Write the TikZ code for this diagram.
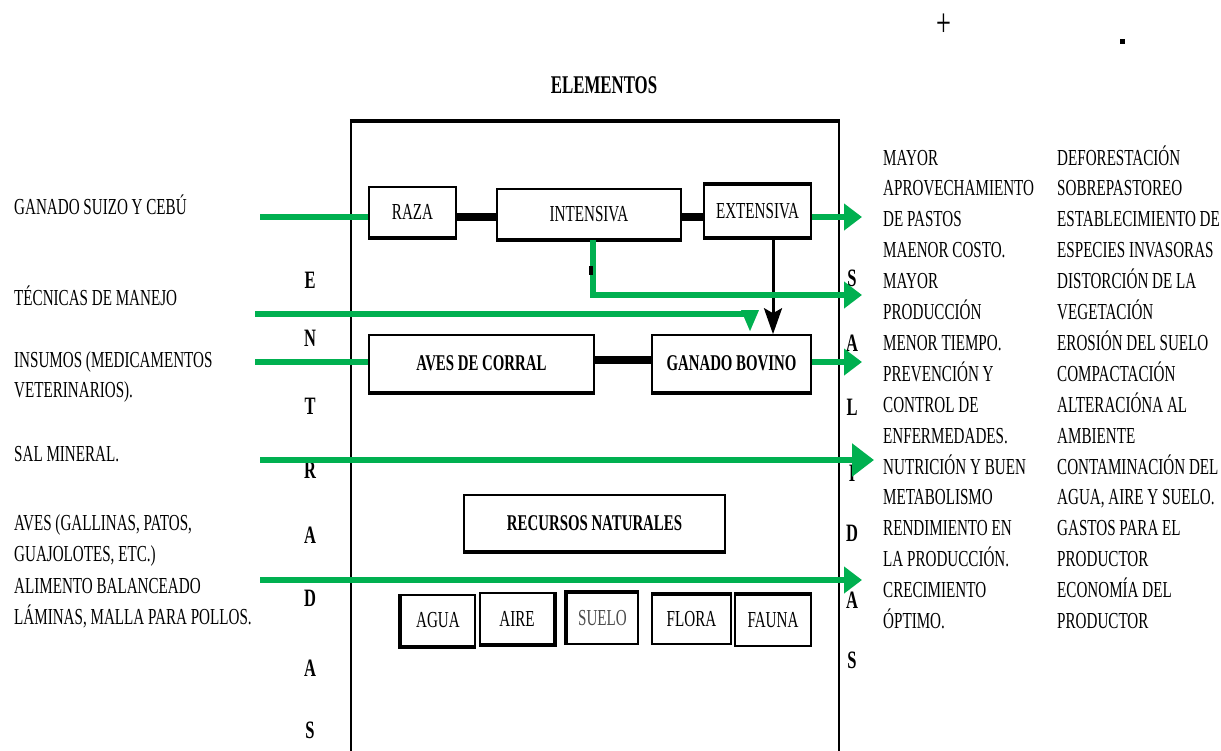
\documentclass[tikz,border=0pt]{standalone}
\usepackage{fontspec}
\setmainfont{Liberation Serif}[FakeStretch=0.66]
\usetikzlibrary{arrows.meta}
\definecolor{grn}{HTML}{00B050}
\begin{document}
\begin{tikzpicture}[x=1pt,y=-1pt,
  txt/.style={font=\fontsize{22.9}{26}\selectfont, inner sep=0pt, anchor=base west},
  boxn/.style={draw, line width=1.6pt, inner sep=0pt, font=\fontsize{22.9}{26}\selectfont},
  boldbox/.style={boxn, font=\fontsize{22.5}{26}\selectfont\bfseries},
  letter/.style={font=\fontsize{25}{28}\selectfont\bfseries, inner sep=0pt},
  edge/.style={line width=3.6pt},
  thickln/.style={line width=8pt},
  gline/.style={grn, line width=5.5pt},
  garrow/.style={gline, -{Triangle[length=18pt,width=26pt]}},
  bigarrow/.style={gline, -{Triangle[length=22pt,width=32pt]}},
  downarrow/.style={gline, -{Triangle[length=22pt,width=16pt]}},
  barrow/.style={line width=3pt, -{Stealth[length=26pt,width=18pt,inset=5pt]}}]
\useasboundingbox (0,0) rectangle (1221,750);

% title and signs
\node[font=\fontsize{25.5}{28}\selectfont\bfseries, inner sep=0pt] (titulo) at (604,85) {ELEMENTOS};
\node[font=\fontsize{40}{42}\selectfont, inner sep=0pt] (mas) at (944,25) {+};
\node[fill=black, minimum size=5pt, inner sep=0pt] (menos) at (1122,41) {};

% main frame
\coordinate (fbl) at (351,752);
\coordinate (ftl) at (351,121);
\coordinate (ftr) at (839,121);
\coordinate (fbr) at (839,752);
\draw[line width=2.5pt] (fbl) -- (ftl);
\draw[line width=2.5pt] (ftr) -- (fbr);
\draw[line width=4pt] ([xshift=-1.25pt]ftl) -- ([xshift=1.25pt]ftr);

% boxes
\node[boxn, minimum width=87pt, minimum height=50pt] (raza) at (412.5,212) {RAZA};
\node[boxn, minimum width=184pt, minimum height=50pt] (intensiva) at (589,214) {INTENSIVA};
\node[boxn, minimum width=107pt, minimum height=52pt] (extensiva) at (757.5,211) {EXTENSIVA};
\node[boldbox, minimum width=225pt, minimum height=57pt] (aves) at (481.5,363.5) {AVES DE CORRAL};
\node[boldbox, minimum width=159pt, minimum height=57pt] (bovino) at (731.5,363.5) {GANADO BOVINO};
\node[boldbox, minimum width=261pt, minimum height=56pt] (recursos) at (594.5,523) {RECURSOS NATURALES};
\node[boxn, minimum width=74pt, minimum height=51pt] (agua) at (438,620.5) {AGUA};
\node[boxn, minimum width=74pt, minimum height=51pt] (aire) at (517,618.5) {AIRE};
\node[boxn, minimum width=71pt, minimum height=51pt, text=black!70] (suelo) at (602.5,618.5) {SUELO};
\node[boxn, minimum width=79pt, minimum height=49pt] (flora) at (691.5,619.5) {FLORA};
\node[boxn, minimum width=76pt, minimum height=51pt] (fauna) at (773,620.5) {FAUNA};

% heavier box edges
\draw[edge] (raza.south west) -- (raza.south east);
\draw[edge] (intensiva.south west) -- (intensiva.south east);
\draw[edge] (extensiva.north west) -- (extensiva.north east);
\draw[edge] (extensiva.south west) -- (extensiva.south east);
\draw[edge] (aves.south west) -- (aves.south east);
\draw[edge] (bovino.south west) -- (bovino.south east);
\draw[edge] (recursos.south west) -- (recursos.south east);
\draw[edge] (agua.north west) -- (agua.south west) -- (agua.south east);
\draw[edge] (aire.south west) -- (aire.south east) -- (aire.north east);
\draw[edge] (suelo.south west) -- (suelo.north west) -- (suelo.north east);
\draw[edge] (flora.north west) -- (flora.north east);
\draw[edge] (fauna.north west) -- (fauna.north east);

% ENTRADAS / SALIDAS letters
\foreach \l/\yy [count=\i] in {E/280,N/338,T/406,R/470,A/535,D/598,A/668,S/730}
  \node[letter] (ent\i) at (310,\yy) {\l};
\foreach \l/\yy [count=\i] in {S/278,A/343,L/407,I/473,D/533,A/600,S/660}
  \node[letter] (sal\i) at (852,\yy) {\l};

% left inputs
\node[txt] (tin1) at (14,214) {GANADO SUIZO Y CEBÚ};
\node[txt] (tin2) at (14,305) {TÉCNICAS DE MANEJO};
\node[txt] (tin3) at (14,367) {INSUMOS (MEDICAMENTOS};
\node[txt] (tin3b) at (14,397) {VETERINARIOS).};
\node[txt] (tin4) at (14,461) {SAL MINERAL.};
\node[txt] (tin5) at (14,530) {AVES (GALLINAS, PATOS,};
\node[txt] (tin5b) at (14,561) {GUAJOLOTES, ETC.)};
\node[txt] (tin5c) at (14,593) {ALIMENTO BALANCEADO};
\node[txt] (tin5d) at (14,624) {LÁMINAS, MALLA PARA POLLOS.};

% right outputs
\foreach \t [count=\i] in {MAYOR,APROVECHAMIENTO,DE PASTOS,MAENOR COSTO.,MAYOR,PRODUCCIÓN,MENOR TIEMPO.,PREVENCIÓN Y,CONTROL DE,ENFERMEDADES.,NUTRICIÓN Y BUEN,METABOLISMO,RENDIMIENTO EN,LA PRODUCCIÓN.,CRECIMIENTO,ÓPTIMO.}
  \node[txt] (pos\i) at (883,{165+(\i-1)*30.9}) {\t};
\foreach \t [count=\i] in {DEFORESTACIÓN,SOBREPASTOREO,ESTABLECIMIENTO DE,ESPECIES INVASORAS,DISTORCIÓN DE LA,VEGETACIÓN,EROSIÓN DEL SUELO,COMPACTACIÓN,ALTERACIÓNA AL,AMBIENTE,CONTAMINACIÓN DEL,{AGUA, AIRE Y SUELO.},GASTOS PARA EL,PRODUCTOR,ECONOMÍA DEL,PRODUCTOR}
  \node[txt] (neg\i) at (1057,{165+(\i-1)*30.9}) {\t};

% coordinates for connectors
\coordinate (i1) at (260,217);
\coordinate (o1) at (862,217);
\coordinate (i2) at (255,314);
\coordinate (tk) at (750,314);
\coordinate (i3) at (255,362);
\coordinate (o3) at (862,362);
\coordinate (c3) at (0,360);
\coordinate (i4) at (260,460);
\coordinate (o4) at (874,460);
\coordinate (i5) at (260,580);
\coordinate (o5) at (862,580);
\coordinate (br) at (593,295);
\coordinate (o2) at (862,295);
\coordinate (bx) at (773,0);
\coordinate (m1) at (591,266);
\coordinate (m2) at (591,275);

% black connectors
\draw[thickln] (raza.east |- i1) -- (intensiva.west |- i1);
\draw[thickln] (intensiva.east |- i1) -- (extensiva.west |- i1);
\draw[thickln] (aves.east |- c3) -- (bovino.west |- c3);
\draw[barrow] (extensiva.south -| bx) -- (bovino.north -| bx);

% green connectors
\draw[gline] (i1) -- (i1 -| raza.west);
\draw[garrow] (extensiva.east |- i1) -- (o1);
\draw[garrow] (intensiva.south -| br) |- (o2);
\draw[downarrow] (i2) -| ([yshift=2pt]bovino.north -| tk);
\draw[gline] (i3) -- (i3 -| aves.west);
\draw[garrow] (bovino.east |- i3) -- (o3);
\draw[bigarrow] (i4) -- (o4);
\draw[garrow] (i5) -- (o5);
\draw[line width=3.5pt] (m1) -- (m2);
\end{tikzpicture}
\end{document}
